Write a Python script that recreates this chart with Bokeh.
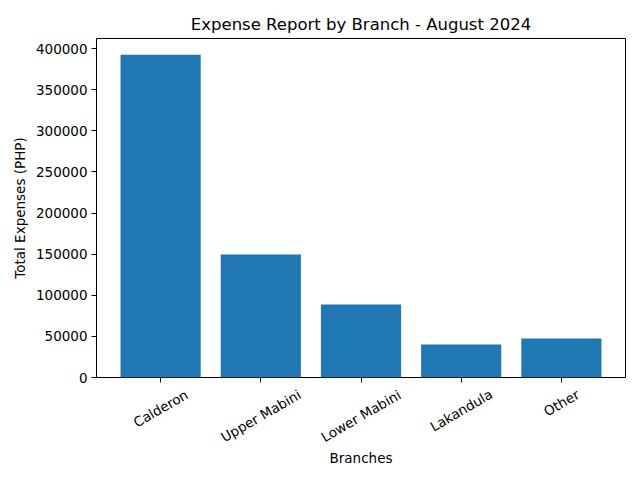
import math
from bokeh.plotting import figure
from bokeh.layouts import column
from bokeh.models import Range1d, FixedTicker, ColumnDataSource
from bokeh.core.properties import value
from bokeh.embed import file_html
from bokeh.resources import INLINE

branches = ["Calderon", "Upper Mabini", "Lower Mabini", "Lakandula", "Other"]
expenses = [392700, 149500, 88800, 40100, 47400]
y_ticks = [0, 50000, 100000, 150000, 200000, 250000, 300000, 350000, 400000]

xs = list(range(len(branches)))
src = ColumnDataSource(dict(x=xs, top=expenses))

FONT = "DejaVu Sans"
TOP_H = 386
BOT_H = 480 - TOP_H
x_range = Range1d(-0.64, 4.64)

p = figure(width=640, height=TOP_H, output_backend="svg", toolbar_location=None,
           x_range=x_range, y_range=Range1d(0, max(expenses) * 1.05),
           min_border_left=96, min_border_right=15, min_border_top=38, min_border_bottom=9)
p.title.text = "Expense Report by Branch - August 2024"
p.title.align = "center"
p.title.text_font = FONT
p.title.text_font_size = "16.5px"
p.title.text_font_style = "normal"
p.title.text_color = "black"
p.title.offset = 0

p.vbar(x="x", top="top", width=0.8, source=src, color="#1f77b4", line_color=None)

p.xgrid.visible = False
p.ygrid.visible = False
p.outline_line_color = "black"
p.outline_line_width = 1

for ax in (p.xaxis[0], p.yaxis[0]):
    ax.axis_line_color = None
    ax.major_tick_line_color = "black"
    ax.major_tick_out = 5
    ax.major_tick_in = 0
    ax.minor_tick_line_color = None
    ax.major_label_text_font = FONT
    ax.major_label_text_font_size = "13.5px"
    ax.major_label_text_color = "black"
    ax.axis_label_text_font = FONT
    ax.axis_label_text_font_size = "13.5px"
    ax.axis_label_text_font_style = "normal"
    ax.axis_label_text_color = "black"

p.xaxis.ticker = FixedTicker(ticks=xs)
p.xaxis.major_label_overrides = {i: "" for i in xs}
p.xaxis.major_label_standoff = 0

p.yaxis.ticker = FixedTicker(ticks=y_ticks)
p.yaxis.formatter.use_scientific = False
p.yaxis.axis_label = "Total Expenses (PHP)"
p.yaxis.major_label_standoff = 4

# Lower strip: category labels rotated 30 degrees and centred under the ticks
# (matplotlib style), plus the x axis title. y is "pixels below the strip top".
q = figure(width=640, height=BOT_H, output_backend="svg", toolbar_location=None,
           x_range=x_range, y_range=Range1d(-BOT_H, 0),
           min_border_left=96, min_border_right=15, min_border_top=0, min_border_bottom=0)
q.axis.visible = False
q.grid.visible = False
q.outline_line_color = None

frame_bottom = 377
label_y = [-(frame_bottom + 16 + 1.86 * len(b) - TOP_H) for b in branches]
lab_src = ColumnDataSource(dict(x=xs, y=label_y, text=branches))
q.text(x="x", y="y", text="text", source=lab_src, angle=math.pi / 6,
       text_align="center", text_baseline="middle",
       text_font=value(FONT), text_font_size="13.5px", text_color="black")
q.text(x=[(x_range.start + x_range.end) / 2], y=[-(457 - TOP_H)], text=["Branches"],
       text_align="center", text_baseline="middle",
       text_font=value(FONT), text_font_size="13.5px", text_color="black")

layout = column(p, q, spacing=0)
open("out.html", "w").write(file_html(layout, INLINE))
